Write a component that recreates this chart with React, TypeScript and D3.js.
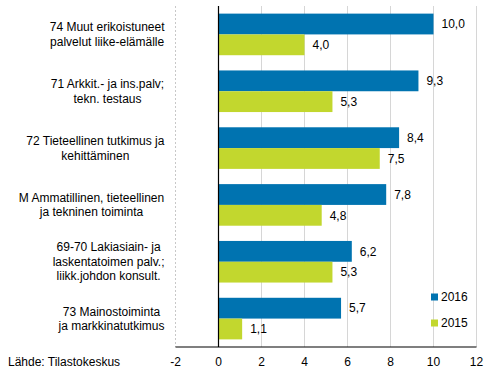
import React from "react";
import * as d3 from "d3";

const categories = [
  ["74 Muut erikoistuneet", "palvelut liike-elämälle"],
  ["71 Arkkit.- ja ins.palv;", "tekn. testaus"],
  ["72 Tieteellinen tutkimus ja", "kehittäminen"],
  ["M Ammatillinen, tieteellinen", "ja tekninen toiminta"],
  ["69-70 Lakiasiain- ja", "laskentatoimen palv.;", "liikk.johdon konsult."],
  ["73 Mainostoiminta", "ja markkinatutkimus"],
];
const values2016 = [10.0, 9.3, 8.4, 7.8, 6.2, 5.7];
const values2015 = [4.0, 5.3, 7.5, 4.8, 5.3, 1.1];
const seriesNames = ["2016", "2015"];
const xTicks = [-2, 0, 2, 4, 6, 8, 10, 12];
const source = "Lähde: Tilastokeskus";

const colors = ["#0073b0", "#c2d72e"];

let ctx: CanvasRenderingContext2D | null = null;
function measure(s: string) {
  if (!ctx) ctx = document.createElement("canvas").getContext("2d");
  if (!ctx) return s.length * 6;
  ctx.font = "12px 'Liberation Sans', Arial, sans-serif";
  return ctx.measureText(s).width;
}

export default function App() {
  const W = 491, H = 378;
  const x = d3.scaleLinear().domain([-2, 12]).range([175.5, 476.5]);
  const y = d3.scaleBand<number>().domain(d3.range(categories.length)).range([6, 347]).paddingInner(0).paddingOuter(0);
  const bw = y.bandwidth();
  const barH = bw * 0.366;
  const pad = (bw - 2 * barH) / 2;
  const fmt = (v: number) => v.toFixed(1).replace(".", ",");
  const font = "'Liberation Sans', Arial, sans-serif";
  const series = [values2016, values2015];
  const labelRight = 164.5;

  return (
    <svg width={W} height={H} style={{ position: "absolute", left: 0, top: 0, display: "block" }} fontFamily={font}>
      <rect width={W} height={H} fill="#fff" />
      {xTicks.filter((t) => t !== 0).map((t) => (
        <line key={t} x1={x(t)} x2={x(t)} y1={6} y2={347} stroke={t === -2 ? "#c8c8c8" : "#d6d6d6"} strokeWidth={1}
          strokeDasharray={t === -2 ? "2,2" : undefined} />
      ))}
      {categories.map((c, i) =>
        series.map((s, j) => (
          <rect key={`${i}-${j}`} x={x(0)} y={(y(i) as number) + pad + j * barH} width={x(s[i]) - x(0)} height={barH} fill={colors[j]} />
        ))
      )}
      {categories.map((c, i) =>
        series.map((s, j) => (
          <text key={`v${i}-${j}`} x={x(s[i]) + 8} y={(y(i) as number) + pad + j * barH + barH / 2} dy="0.35em" fontSize={12} fill="#000">
            {fmt(s[i])}
          </text>
        ))
      )}
      <line x1={x(0)} x2={x(0)} y1={6} y2={347} stroke="#000" strokeWidth={1.2} />
      <line x1={x(-2)} x2={x(12)} y1={347} y2={347} stroke="#000" strokeWidth={1.2} />
      {xTicks.map((t) => (
        <text key={`t${t}`} x={x(t)} y={362} dy="0.35em" textAnchor="middle" fontSize={12} fill="#000">{t < 0 ? `-${Math.abs(t)}` : t}</text>
      ))}
      {categories.map((lines, i) => {
        const cy = (y(i) as number) + bw / 2;
        const lh = 14.5;
        const start = cy - ((lines.length - 1) * lh) / 2;
        const maxW = Math.max(...lines.map((l) => measure(l)));
        const cx = labelRight - maxW / 2;
        return (
          <g key={`c${i}`}>
            {lines.map((l, k) => (
              <text key={k} x={cx} y={start + k * lh} dy="0.35em" textAnchor="middle" fontSize={12} fill="#000">{l}</text>
            ))}
          </g>
        );
      })}
      {seriesNames.map((n, j) => (
        <g key={n} transform={`translate(431, ${297 + j * 26})`}>
          <rect x={0} y={-3.5} width={7} height={7} fill={colors[j]} />
          <text x={10} y={0} dy="0.35em" fontSize={12} fill="#000">{n}</text>
        </g>
      ))}
      <text x={8} y={362} dy="0.35em" fontSize={12} fill="#000">{source}</text>
    </svg>
  );
}
